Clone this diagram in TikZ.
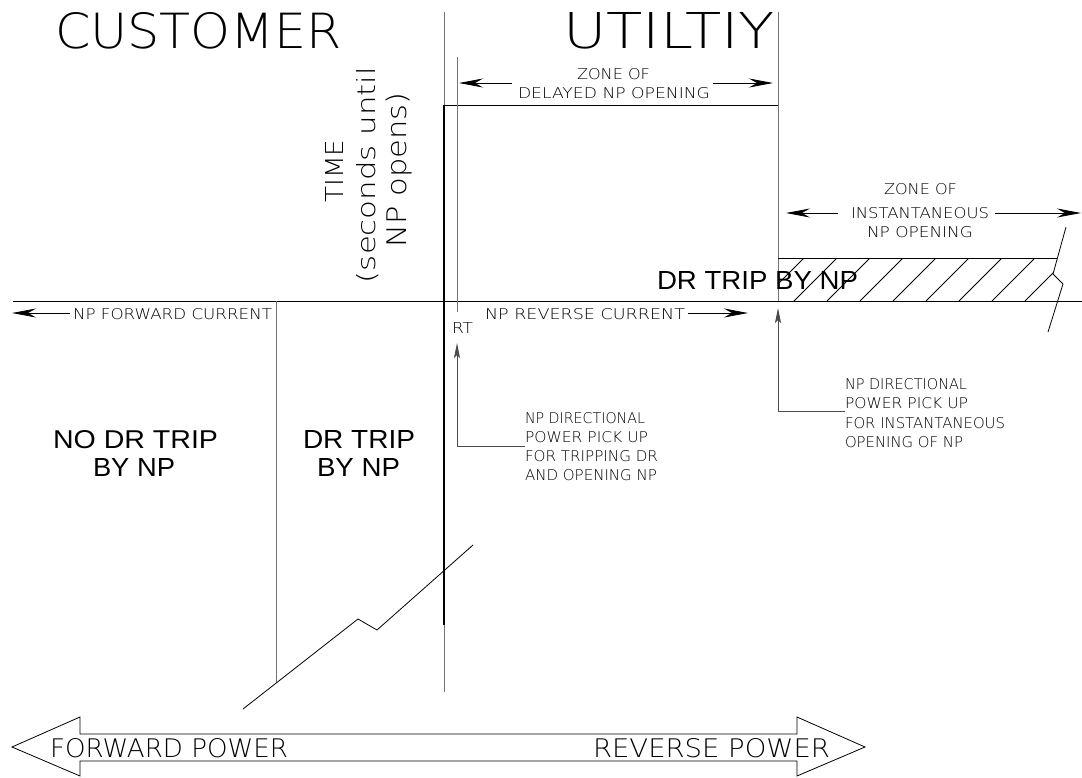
\documentclass[tikz,border=0pt]{standalone}
\usepackage{fontspec}
\usepackage{graphicx}
\usetikzlibrary{arrows.meta}
\newfontfamily\cadfont{DejaVu Sans ExtraLight}
\newfontfamily\arialfont{Liberation Sans}
\newcommand\cadtxt[3]{\resizebox{#1}{#2}{\cadfont #3}}
\newcommand\bigtxt[3]{\resizebox{#1}{#2}{\arialfont #3}}
\begin{document}
\begin{tikzpicture}[x=1pt,y=-1pt, inner sep=0pt, outer sep=0pt,
  thinv/.style={draw=black!55, line width=1pt},
  thinh/.style={draw=black, line width=0.8pt},
  curve/.style={draw=black, line width=2pt},
  harrow/.style={-{Stealth[length=24pt,width=9pt,inset=8pt]}, draw=black, line width=0.8pt},
  varrow/.style={-{Stealth[length=15pt,width=6pt,inset=3pt]}, draw=black!70, line width=0.9pt},
  lbl/.style={anchor=base west},
  rlbl/.style={rotate=90, anchor=base},
]
\useasboundingbox (0,0) rectangle (1082,777);

% ---------- coordinates ----------
\coordinate (axL) at (13,301);
\coordinate (axR) at (1082,301);
\coordinate (vTop) at (444,12);
\coordinate (vBot) at (444,692);
\coordinate (cB) at (444,625);
\coordinate (cTL) at (444,105);
\coordinate (cTR) at (778,105);
\coordinate (uTop) at (778,12);
\coordinate (uAx) at (778,301);
\coordinate (hL) at (778,258);
\coordinate (hR) at (1057,258);
\coordinate (eTop) at (457,57);
\coordinate (eBot) at (457,312);
\coordinate (fTop) at (276,301);
\coordinate (fBot) at (276,683);

% ---------- hatch ----------
\begin{scope}
\clip (778,258) -- (1057,258) -- (1053,274) -- (1063,284) -- (1058,301) -- (778,301) -- cycle;
\foreach \b in {761,794,...,1025} \draw[thinh] (\b,301) -- ++(43,-43);
\end{scope}

% ---------- lines ----------
\draw[thinh] (axL) -- (axR);
\draw[thinv] (vTop) -- (vBot);
\draw[curve] (cB) -- (cTL);
\draw[thinh] (cTL) -- (cTR);
\draw[thinv] (uTop) -- (uAx);
\draw[thinh] (hL) -- (hR);
\draw[thinv] (eTop) -- (eBot);
\draw[thinv] (fTop) -- (fBot);

% break lines
\draw[thinh] (1066,227) -- (1053,274) -- (1063,284) -- (1048,332);
\draw[thinh] (243,709) -- (358,619) -- (377,630) -- (473,545);

% ---------- titles ----------
\node[lbl] (customer) at (55,48) {\cadtxt{287pt}{36pt}{CUSTOMER}};
\node[lbl] (utility) at (563,48) {\cadtxt{212pt}{36pt}{UTILTIY}};

% ---------- time axis label ----------
\node[rlbl] (time1) at (343,171) {\cadtxt{63pt}{18pt}{TIME}};
\node[rlbl] (time2) at (375,175) {\cadtxt{216pt}{19pt}{(seconds until}};
\node[rlbl] (time3) at (406,170) {\cadtxt{155pt}{20.5pt}{NP opens)}};

% ---------- zone of delayed opening ----------
\node[lbl] (zoneAa) at (577,79) {\cadtxt{73pt}{11pt}{ZONE OF}};
\node[lbl] (zoneAb) at (518,98) {\cadtxt{192pt}{11pt}{DELAYED NP OPENING}};
\coordinate (dAl0) at (512,83);
\coordinate (dAl) at (459,83);
\coordinate (dAr0) at (713,83);
\coordinate (dAr) at (773,83);
\draw[harrow] (dAl0) -- (dAl);
\draw[harrow] (dAr0) -- (dAr);

% ---------- zone of instantaneous opening ----------
\node[lbl] (zoneBa) at (884,194) {\cadtxt{73pt}{11pt}{ZONE OF}};
\node[lbl] (zoneBb) at (851,218) {\cadtxt{138pt}{11pt}{INSTANTANEOUS}};
\node[lbl] (zoneBc) at (867,237) {\cadtxt{106pt}{11pt}{NP OPENING}};
\coordinate (dBl0) at (838,213);
\coordinate (dBl) at (786,213);
\coordinate (dBr0) at (995,213);
\coordinate (dBr) at (1081,213);
\draw[harrow] (dBl0) -- (dBl);
\draw[harrow] (dBr0) -- (dBr);

% ---------- current labels ----------
\node[lbl] (fwd) at (73,319) {\cadtxt{199pt}{11pt}{NP FORWARD CURRENT}};
\coordinate (fwA0) at (70,313);
\coordinate (fwA) at (12,313);
\draw[harrow] (fwA0) -- (fwA);
\node[lbl] (rt) at (452,333) {\cadtxt{21pt}{11pt}{RT}};
\node[lbl] (rev) at (485,319) {\cadtxt{200pt}{11pt}{NP REVERSE CURRENT}};
\coordinate (rvA0) at (688,313);
\coordinate (rvA) at (748,313);
\draw[harrow] (rvA0) -- (rvA);

% ---------- pick up 1 ----------
\node[lbl] (p1a) at (525,423) {\cadtxt{120pt}{11pt}{NP DIRECTIONAL}};
\node[lbl] (p1b) at (525,442) {\cadtxt{123pt}{11pt}{POWER PICK UP}};
\node[lbl] (p1c) at (525,461) {\cadtxt{133pt}{11pt}{FOR TRIPPING DR}};
\node[lbl] (p1d) at (525,480) {\cadtxt{132pt}{11pt}{AND OPENING NP}};
\coordinate (p1s) at (525,446);
\coordinate (p1k) at (457,446);
\coordinate (p1t) at (457,343);
\draw[varrow] (p1s) -- (p1k) -- (p1t);

% ---------- pick up 2 ----------
\node[lbl] (p2a) at (845,389) {\cadtxt{122pt}{11pt}{NP DIRECTIONAL}};
\node[lbl] (p2b) at (845,408) {\cadtxt{123pt}{11pt}{POWER PICK UP}};
\node[lbl] (p2c) at (845,428) {\cadtxt{160pt}{11pt}{FOR INSTANTANEOUS}};
\node[lbl] (p2d) at (845,447) {\cadtxt{118pt}{11pt}{OPENING OF NP}};
\coordinate (p2s) at (845,411);
\coordinate (p2k) at (778,411);
\coordinate (p2t) at (778,308);
\draw[varrow] (p2s) -- (p2k) -- (p2t);

% ---------- region labels ----------
\node[lbl] (nodr1) at (53,448) {\bigtxt{165pt}{18pt}{NO DR TRIP}};
\node[lbl] (nodr2) at (93,476) {\bigtxt{82pt}{18pt}{BY NP}};
\node[lbl] (dr1) at (303,448) {\bigtxt{112pt}{18pt}{DR TRIP}};
\node[lbl] (dr2) at (317,476) {\bigtxt{83pt}{18pt}{BY NP}};
\node[lbl] (dr3) at (657,289) {\bigtxt{201pt}{18pt}{DR TRIP BY NP}};

% ---------- power block arrow ----------
\draw[thinh] (12,747) -- (80,717) -- (80,734) -- (797,734) -- (797,717) -- (865,747)
  -- (797,776) -- (797,761) -- (80,761) -- (80,776) -- cycle;
\node[lbl] (fp) at (50,757) {\cadtxt{238pt}{19pt}{FORWARD POWER}};
\node[lbl] (rp) at (593,757) {\cadtxt{237pt}{19pt}{REVERSE POWER}};
\end{tikzpicture}
\end{document}
